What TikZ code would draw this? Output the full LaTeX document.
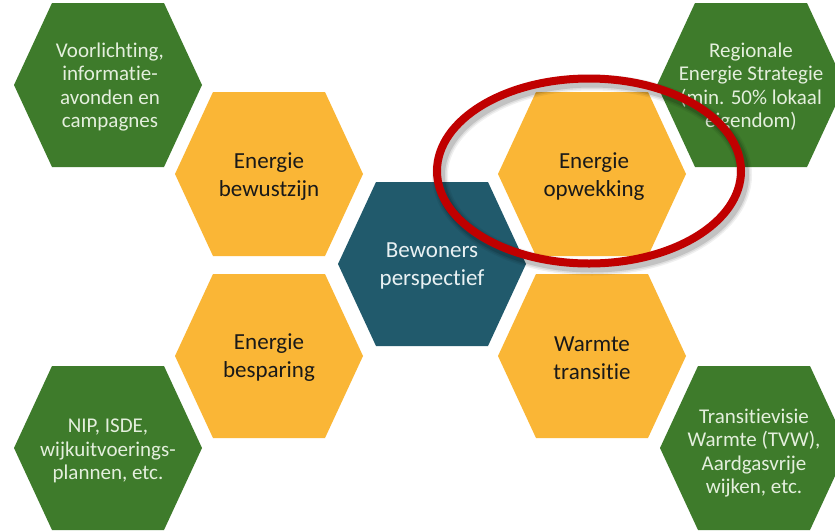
\documentclass[tikz,border=0pt]{standalone}
\usepackage{fontspec}
\setmainfont{Carlito}[Ligatures=NoCommon]
\definecolor{hgreen}{HTML}{3E7B2B}
\definecolor{horange}{HTML}{FAB636}
\definecolor{hteal}{HTML}{215A6C}
\definecolor{hred}{HTML}{C00000}
\definecolor{gtext}{HTML}{E4EFDD}
\definecolor{ttext}{HTML}{E9F1F3}
\newcommand\hexshape[3]{% x, y, colour
  \fill[#3] (#1-94,#2) -- ++(38,-82) -- ++(112,0) -- ++(38,82) -- ++(-38,82) -- ++(-112,0) -- cycle;}
\begin{document}
\begin{tikzpicture}[x=1pt,y=-1pt,
  otext/.style={align=center,text=black!90,font=\fontsize{23}{28}\selectfont},
  ctext/.style={align=center,text=ttext,font=\fontsize{23}{28}\selectfont},
  gtextst/.style={align=center,text=gtext,font=\fontsize{21}{23.5}\selectfont}]
\useasboundingbox (0,0) rectangle (835,531);
\fill[white] (0,0) rectangle (835,531);
% green corner hexagons
\hexshape{108}{85}{hgreen}
\hexshape{751}{85}{hgreen}
\hexshape{108}{448}{hgreen}
\hexshape{754}{448}{hgreen}
% orange hexagons
\hexshape{269}{174}{horange}
\hexshape{592}{174}{horange}
\hexshape{269}{356}{horange}
\hexshape{592}{356}{horange}
% centre
\hexshape{432}{264}{hteal}
% texts
\node[gtextst] (g1) at (110,87) {Voorlichting,\\informatie-\\avonden en\\campagnes};
\node[gtextst] (g2) at (751,87) {Regionale\\Energie Strategie\\(min. 50\% lokaal\\eigendom)};
\node[gtextst] (g3) at (108,451) {NIP, ISDE,\\wijkuitvoerings-\\plannen, etc.};
\node[gtextst] (g4) at (754,453) {Transitievisie\\Warmte (TVW),\\Aardgasvrije\\wijken, etc.};
\node[otext] (o1) at (269,177) {Energie\\bewustzijn};
\node[otext] (o2) at (594,177) {Energie\\opwekking};
\node[otext] (o3) at (269,358) {Energie\\besparing};
\node[otext] (o4) at (592,358) {Warmte\\transitie};
\node[ctext] (c) at (432,266) {Bewoners\\perspectief};
% red ellipse with soft shadow
\foreach \w/\o in {16/0.06,13/0.08,10/0.12}{
  \draw[black,opacity=\o,line width=\w] (592,175) ellipse [x radius=152, y radius=92.5];}
\draw[hred,line width=8] (589,171) ellipse [x radius=152, y radius=92.5];
\end{tikzpicture}
\end{document}
